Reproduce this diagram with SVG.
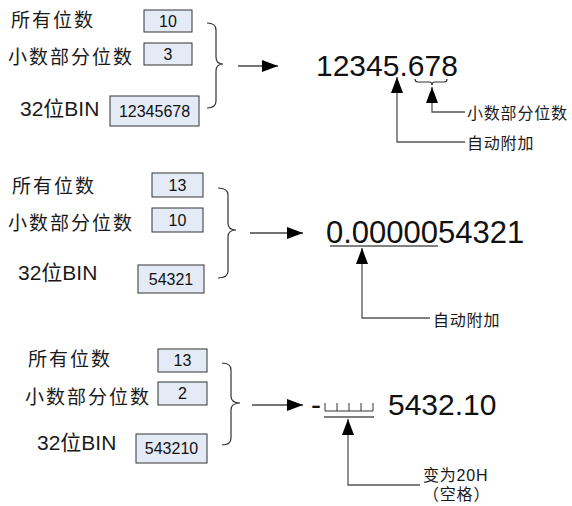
<svg xmlns="http://www.w3.org/2000/svg" width="572" height="506" viewBox="0 0 572 506">
<defs>
<marker id="ah" viewBox="0 0 16 12" refX="16" refY="6" markerWidth="16" markerHeight="12" orient="auto" markerUnits="userSpaceOnUse"><path d="M0,0 L16,6 L0,12 z" fill="#000"/></marker>
<style>
.lbl{font-family:"Liberation Sans","Noto Sans CJK SC",sans-serif;font-size:19px;letter-spacing:2px;fill:#1a1a1a}
.bin{font-family:"Liberation Sans","Noto Sans CJK SC",sans-serif;font-size:21px;fill:#1a1a1a}
.sm{font-family:"Liberation Sans","Noto Sans CJK SC",sans-serif;font-size:16px;letter-spacing:0.8px;fill:#1a1a1a}
.box{fill:#e4ebf6;stroke:#333;stroke-width:1}
.bt{font-family:"Liberation Sans",Arial,sans-serif;font-size:16px;fill:#111;text-anchor:middle}
.big{font-family:"Liberation Sans",Arial,sans-serif;font-size:30px;fill:#111}
.br{fill:none;stroke:#333;stroke-width:1.2}
.ar{fill:none;stroke:#444;stroke-width:1.5;marker-end:url(#ah)}
.co{fill:none;stroke:#555;stroke-width:1.3;marker-end:url(#ah)}
.ul{stroke:#808080;stroke-width:2}
</style>
</defs>

<g id="sec1">
<text class="lbl" x="11" y="27">所有位数</text>
<rect class="box" x="144" y="10" width="48" height="22"/><text class="bt" x="168" y="27">10</text>
<text class="lbl" x="8" y="64">小数部分位数</text>
<rect class="box" x="144" y="43" width="48" height="22"/><text class="bt" x="168" y="60">3</text>
<text class="bin" x="20" y="116">32位BIN</text>
<rect class="box" x="110" y="96" width="89" height="30"/><text class="bt" x="154.5" y="117">12345678</text>
<path class="br" d="M207,23 Q216,23 216,30 L216,57 Q216,64 223,64 Q216,64 216,71 L216,101 Q216,108 207,108"/>
<text class="big" x="316" y="76">12345.678</text>
<path class="br" d="M415,79 Q415,82 418,82 L429,82 Q432,82 432,85 Q432,82 435,82 L444,82 Q447,82 447,79"/>
<text class="sm" x="467" y="119">小数部分位数</text>
<text class="sm" x="467" y="149">自动附加</text>
</g>

<g id="sec2">
<text class="lbl" x="12" y="193">所有位数</text>
<rect class="box" x="152" y="173" width="51" height="24"/><text class="bt" x="177.5" y="191">13</text>
<text class="lbl" x="8" y="230">小数部分位数</text>
<rect class="box" x="152" y="208" width="51" height="24"/><text class="bt" x="177.5" y="226">10</text>
<text class="bin" x="18" y="280">32位BIN</text>
<rect class="box" x="138" y="265" width="66" height="28"/><text class="bt" x="171" y="285">54321</text>
<path class="br" d="M218,188 Q228,188 228,195 L228,223 Q228,230 236,230 Q228,230 228,237 L228,271 Q228,278 218,278"/>
<text class="big" x="326" y="243" style="font-size:31px">0.0000054321</text>
<line class="ul" x1="330" y1="246" x2="438" y2="246"/>
<text class="sm" x="433" y="326">自动附加</text>
</g>

<g id="sec3">
<text class="lbl" x="28" y="366">所有位数</text>
<rect class="box" x="158" y="349" width="49" height="23"/><text class="bt" x="182.5" y="366">13</text>
<text class="lbl" x="25" y="404">小数部分位数</text>
<rect class="box" x="158" y="382" width="49" height="23"/><text class="bt" x="182.5" y="399">2</text>
<text class="bin" x="37" y="450">32位BIN</text>
<rect class="box" x="136" y="434" width="71" height="29"/><text class="bt" x="171.5" y="454">543210</text>
<path class="br" d="M222,363 Q231,363 231,370 L231,396 Q231,403 240,403 Q231,403 231,410 L231,438 Q231,445 222,445"/>
<text class="big" x="311" y="415">-</text>
<path d="M325,403 L325,411 L373,411 L373,403 M337,403 L337,411 M349,403 L349,411 M361,403 L361,411" fill="none" stroke="#333" stroke-width="1"/>
<line class="ul" x1="324" y1="417" x2="374" y2="417"/>
<text class="big" x="388" y="415">5432.10</text>
<text class="sm" x="423" y="481">变为20H</text>
<text class="sm" x="423" y="500">（空格）</text>
</g>

<g id="connectors">
<path class="ar" d="M238,66 L278,66"/>
<path class="co" d="M465,112 L432,112 L432,87"/>
<path class="co" d="M465,142 L397,142 L397,77"/>
<path class="ar" d="M250,233 L303,233"/>
<path class="co" d="M430,318 L362,318 L362,248"/>
<path class="ar" d="M252,405 L303,405"/>
<path class="co" d="M420,485 L348,485 L348,419"/>
</g>
</svg>
